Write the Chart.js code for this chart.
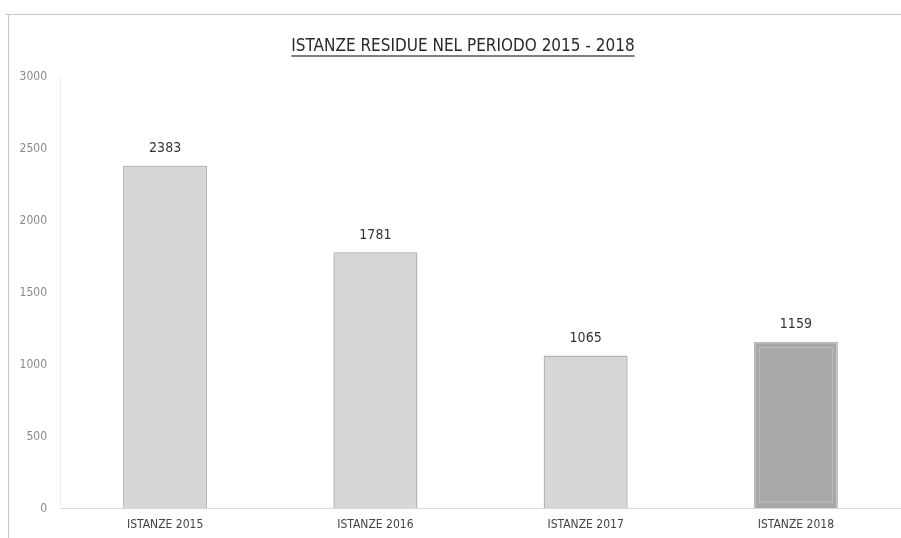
<!DOCTYPE html>
<html>
<head>
<meta charset="utf-8">
<script src="https://cdn.jsdelivr.net/npm/chart.js@4"></script>
<style>
  html, body { margin: 0; padding: 0; background: #fff; }
  #wrap { width: 901px; height: 538px; position: relative; }
</style>
</head>
<body>
<div id="wrap"><canvas id="chartIstanze" width="901" height="538"></canvas></div>
<script>
// ===== DATI =====
const categorie = ['ISTANZE 2015', 'ISTANZE 2016', 'ISTANZE 2017', 'ISTANZE 2018'];
const residui   = [2383, 1781, 1065, 1159];
const coloriBar = ['#d6d6d6', '#d6d6d6', '#d6d6d6', '#a8a8a8'];
const bordiBar  = ['#b4b4b4', '#b4b4b4', '#b4b4b4', '#b8b8b8'];
const titolo    = 'ISTANZE RESIDUE NEL PERIODO 2015 - 2018';

const FONT = "'DejaVu Sans Condensed', 'DejaVu Sans', sans-serif";

// cornice, titolo sottolineato ed etichette sopra le barre
const decorazioni = {
  id: 'decorazioni',
  beforeDraw(chart) {
    const { ctx } = chart;
    ctx.save();
    ctx.strokeStyle = '#c9c9c9';
    ctx.lineWidth = 1;
    ctx.beginPath();
    ctx.moveTo(5, 14.5);
    ctx.lineTo(901, 14.5);
    ctx.moveTo(8.5, 14);
    ctx.lineTo(8.5, 538);
    ctx.stroke();
    ctx.restore();
  },
  afterDatasetsDraw(chart) {
    const { ctx } = chart;
    const meta = chart.getDatasetMeta(0);
    ctx.save();

    // bordo interno della barra 2018
    const b4 = meta.data[3];
    ctx.strokeStyle = '#bcbcbc';
    ctx.lineWidth = 1;
    ctx.strokeRect(b4.x - b4.width / 2 + 5.5, b4.y + 5.5, b4.width - 11, b4.base - b4.y - 12);

    ctx.fillStyle = '#333';
    ctx.font = '14px ' + FONT;
    ctx.textAlign = 'center';
    ctx.textBaseline = 'middle';
    meta.data.forEach((bar, i) => {
      ctx.fillText(String(residui[i]), bar.x, bar.y - 17);
    });

    // titolo
    ctx.font = '17px ' + FONT;
    ctx.fillStyle = '#2a2a2a';
    ctx.textBaseline = 'alphabetic';
    const cx = 463;
    ctx.fillText(titolo, cx, 51);
    const w = ctx.measureText(titolo).width;
    ctx.strokeStyle = '#555';
    ctx.lineWidth = 1.5;
    ctx.beginPath();
    ctx.moveTo(cx - w / 2, 56);
    ctx.lineTo(cx + w / 2, 56);
    ctx.stroke();
    ctx.restore();
  }
};

new Chart(document.getElementById('chartIstanze').getContext('2d'), {
  type: 'bar',
  data: {
    labels: categorie,
    datasets: [{
      data: residui,
      backgroundColor: coloriBar,
      borderColor: bordiBar,
      borderWidth: 1.5,
      categoryPercentage: 1,
      barPercentage: 0.4
    }]
  },
  options: {
    responsive: false,
    animation: false,
    layout: { padding: { top: 77, right: 0, bottom: 5, left: 0 } },
    plugins: { legend: { display: false }, tooltip: { enabled: false }, title: { display: false } },
    scales: {
      x: {
        grid: { display: false },
        border: { color: '#dcdcdc' },
        ticks: { color: '#444', font: { family: FONT, size: 12 }, padding: 1 }
      },
      y: {
        min: 0,
        max: 3000,
        afterFit(scale) { scale.width = 60; },
        grid: { display: false },
        border: { color: '#f0f0f0' },
        ticks: {
          stepSize: 500,
          color: '#8a8a8a',
          font: { family: FONT, size: 12 },
          padding: 5,
          callback: v => String(v)
        }
      }
    }
  },
  plugins: [decorazioni]
});
</script>
</body>
</html>
